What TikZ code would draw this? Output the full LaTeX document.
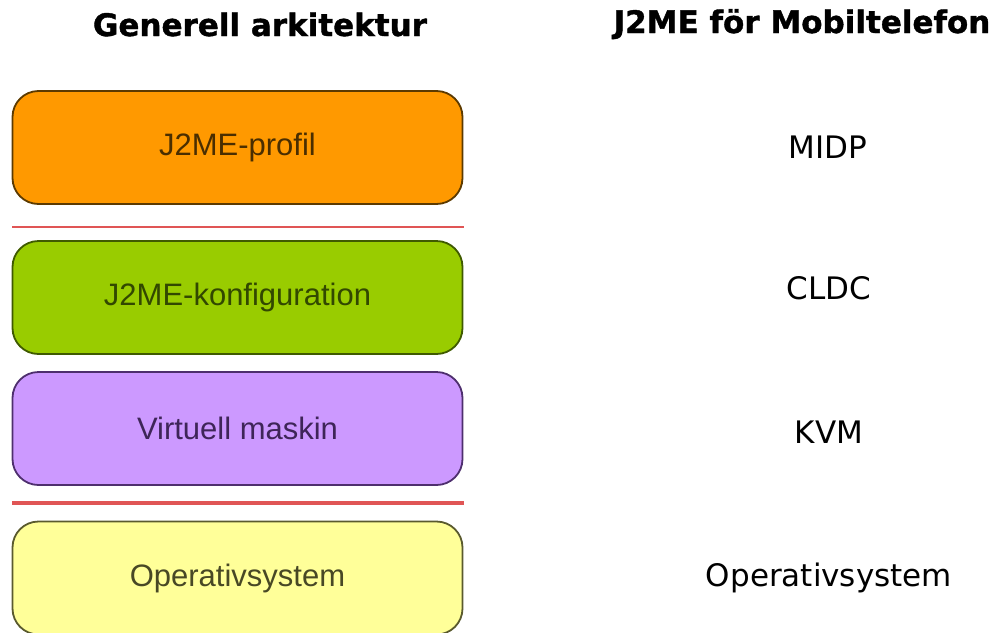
\documentclass[tikz,border=0pt]{standalone}
\usepackage{fontspec}
\setmainfont{Liberation Sans}
\newfontfamily\verd{DejaVu Sans}
\newfontfamily\verdheavy[FakeBold=1.2]{DejaVu Sans Bold}
\definecolor{orangefill}{HTML}{FF9900}
\definecolor{orangeline}{HTML}{5C3A00}
\definecolor{greenfill}{HTML}{99CC00}
\definecolor{greenline}{HTML}{3F5A00}
\definecolor{purplefill}{HTML}{CC99FF}
\definecolor{purpleline}{HTML}{4E2F6E}
\definecolor{yellowfill}{HTML}{FFFF99}
\definecolor{yellowline}{HTML}{5A5A2E}
\definecolor{sepred}{HTML}{E05555}
\begin{document}
\begin{tikzpicture}[x=1pt,y=-1pt,
  layer/.style={draw, line width=1.8pt, rounded corners=26pt,
    minimum width=450pt, minimum height=113pt, inner sep=0pt,
    font=\fontsize{31}{36}\selectfont},
  heading/.style={anchor=base, font=\verdheavy\fontsize{31}{36}\selectfont},
  mobile/.style={anchor=base, font=\verd\fontsize{31}{36}\selectfont},
  sepline/.style={draw=sepred}]
\useasboundingbox (0,0) rectangle (998,632);

% column headings
\node[heading] (hgen) at (260,36) {Generell arkitektur};
\node[heading] (hmob) at (802,33) {J2ME för Mobiltelefon};

% generic architecture layers
\node[layer, fill=orangefill, draw=orangeline, text=orangeline!80!black] (prof) at (237.5,147.5) {J2ME-profil};
\node[layer, fill=greenfill, draw=greenline, text=greenline!80!black] (konf) at (237.5,297.5) {J2ME-konfiguration};
\node[layer, fill=purplefill, draw=purpleline, text=purpleline!80!black] (vm) at (237.5,428.5) {Virtuell maskin};
\node[layer, fill=yellowfill, draw=yellowline, text=yellowline!80!black] (os) at (237.5,578) {Operativsystem};

% separators
\coordinate (s1a) at (12,227);
\coordinate (s1b) at (464,227);
\coordinate (s2a) at (12,503);
\coordinate (s2b) at (464,503);
\draw[sepline, line width=1.8pt] (s1a) -- (s1b);
\draw[sepline, line width=3.5pt] (s2a) -- (s2b);

% mobile phone counterparts
\node[mobile] (midp) at (828,158) {MIDP};
\node[mobile] (cldc) at (829,299) {CLDC};
\node[mobile] (kvm) at (829,443) {KVM};
\node[mobile] (mos) at (829,586) {Operativsystem};
\end{tikzpicture}
\end{document}
